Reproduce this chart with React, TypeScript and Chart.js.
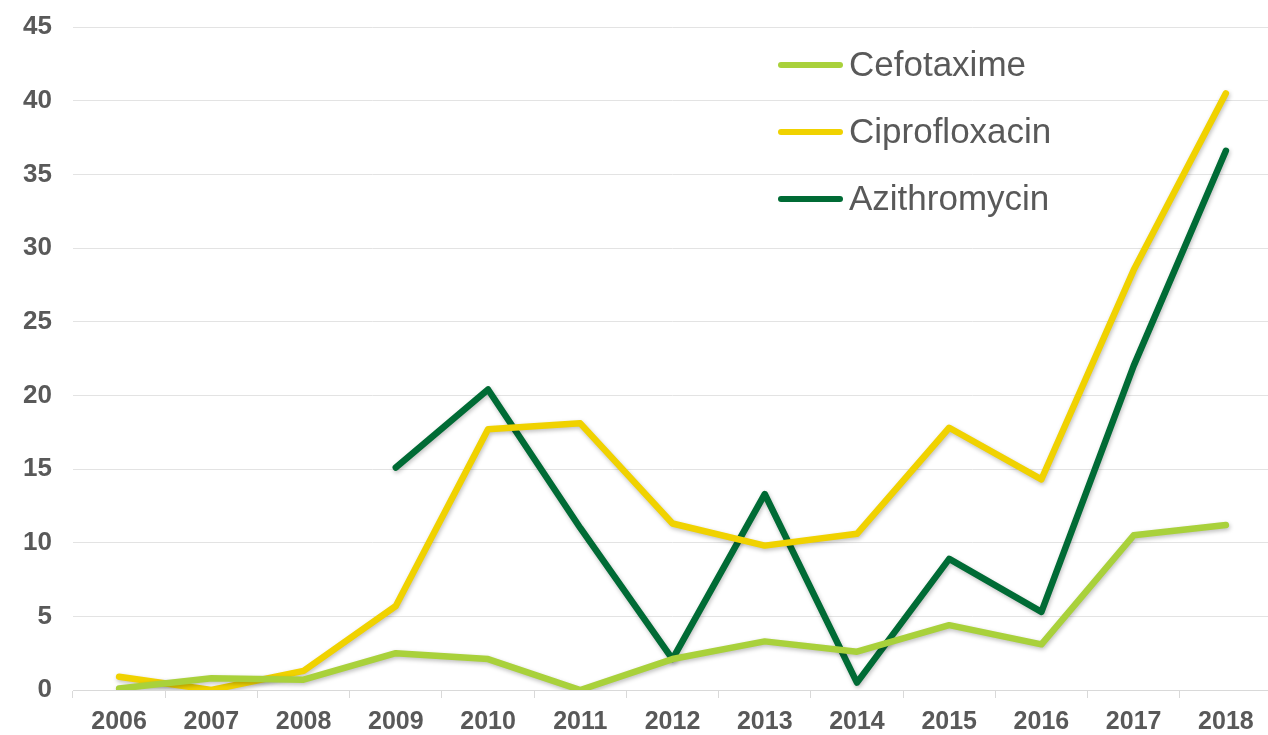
import React, { useEffect, useRef } from "react";
import { Chart, registerables } from "chart.js";

Chart.register(...registerables);

const years = ["2006", "2007", "2008", "2009", "2010", "2011", "2012", "2013", "2014", "2015", "2016", "2017", "2018"];
const cefotaxime = [0.1, 0.8, 0.7, 2.5, 2.1, 0, 2.1, 3.3, 2.6, 4.4, 3.1, 10.5, 11.2];
const ciprofloxacin = [0.9, 0, 1.3, 5.7, 17.7, 18.1, 11.3, 9.8, 10.6, 17.8, 14.3, 28.5, 40.5];
const azithromycin = [null, null, null, 15.1, 20.4, 11.0, 2.1, 13.3, 0.5, 8.9, 5.3, 22.0, 36.6];
const yTicks = [0, 5, 10, 15, 20, 25, 30, 35, 40, 45];

const COLORS = {
  cefotaxime: "#a9d13b",
  ciprofloxacin: "#f0d200",
  azithromycin: "#006b35",
};

const TEXT = "#595959";

const legendPlugin = {
  id: "insideLegend",
  afterDraw(chart: any) {
    const ctx = chart.ctx;
    const x0 = 781;
    const x1 = 840;
    const tx = 849;
    const y0 = 65;
    const gap = 67;
    ctx.save();
    chart.data.datasets.forEach((ds: any, i: number) => {
      const y = y0 + i * gap;
      ctx.strokeStyle = ds.borderColor;
      ctx.lineWidth = 6;
      ctx.lineCap = "round";
      ctx.beginPath();
      ctx.moveTo(x0, y);
      ctx.lineTo(x1, y);
      ctx.stroke();
      ctx.fillStyle = TEXT;
      ctx.font = '35px "Liberation Sans", Arial, sans-serif';
      ctx.textAlign = "left";
      ctx.textBaseline = "middle";
      ctx.fillText(ds.label, tx, y + 1);
    });
    ctx.restore();
  },
};

const shadowPlugin = {
  id: "lineShadow",
  beforeDatasetDraw(chart: any) {
    const ctx = chart.ctx;
    ctx.save();
    ctx.shadowColor = "rgba(0,0,0,0.25)";
    ctx.shadowBlur = 4;
    ctx.shadowOffsetX = 1;
    ctx.shadowOffsetY = 2;
  },
  afterDatasetDraw(chart: any) {
    chart.ctx.restore();
  },
};

export default function App() {
  const ref = useRef<HTMLCanvasElement>(null);

  useEffect(() => {
    document.body.style.margin = "0";
    const canvas = ref.current!;
    const chart = new Chart(canvas, {
      type: "line",
      data: {
        labels: years,
        datasets: [
          { label: "Cefotaxime", data: cefotaxime, borderColor: COLORS.cefotaxime, backgroundColor: COLORS.cefotaxime },
          { label: "Ciprofloxacin", data: ciprofloxacin, borderColor: COLORS.ciprofloxacin, backgroundColor: COLORS.ciprofloxacin },
          { label: "Azithromycin", data: azithromycin, borderColor: COLORS.azithromycin, backgroundColor: COLORS.azithromycin },
        ],
      },
      options: {
        responsive: false,
        animation: false,
        devicePixelRatio: 1,
        layout: { padding: { top: 27, right: 0, bottom: 0, left: 0 } },
        elements: {
          line: { borderWidth: 6.5, tension: 0, borderCapStyle: "round", borderJoinStyle: "round" },
          point: { radius: 0, hoverRadius: 0 },
        },
        plugins: {
          legend: { display: false },
          tooltip: { enabled: false },
          title: { display: false },
        },
        scales: {
          x: {
            offset: true,
            grid: {
              offset: true,
              drawOnChartArea: false,
              drawTicks: true,
              tickLength: 8,
              color: "#d9d9d9",
              lineWidth: 1,
            },
            border: { display: true, color: "#d9d9d9", width: 1 },
            ticks: {
              color: TEXT,
              font: { family: '"Liberation Sans", Arial, sans-serif', size: 25, weight: "bold" },
              padding: 9,
              maxRotation: 0,
              autoSkip: false,
            },
            afterFit(scale: any) {
              scale.height = 45;
              scale.paddingLeft = 0;
              scale.paddingRight = 0;
            },
          },
          y: {
            min: 0,
            max: 45,
            afterBuildTicks(scale: any) {
              scale.ticks = yTicks.map((v) => ({ value: v }));
            },
            grid: { color: "#e3e3e3", lineWidth: 1, drawTicks: false },
            border: { display: false },
            ticks: {
              color: TEXT,
              font: { family: '"Liberation Sans", Arial, sans-serif', size: 26, weight: "bold" },
              padding: 21,
            },
            afterFit(scale: any) {
              scale.width = 73;
              scale.paddingTop = 0;
              scale.paddingBottom = 0;
            },
          },
        },
      },
      plugins: [shadowPlugin, legendPlugin],
    });
    return () => chart.destroy();
  }, []);

  return (
    <div style={{ width: 1268, height: 735, overflow: "hidden", background: "#fff" }}>
      <canvas ref={ref} width={1272} height={735} style={{ display: "block" }} />
    </div>
  );
}
